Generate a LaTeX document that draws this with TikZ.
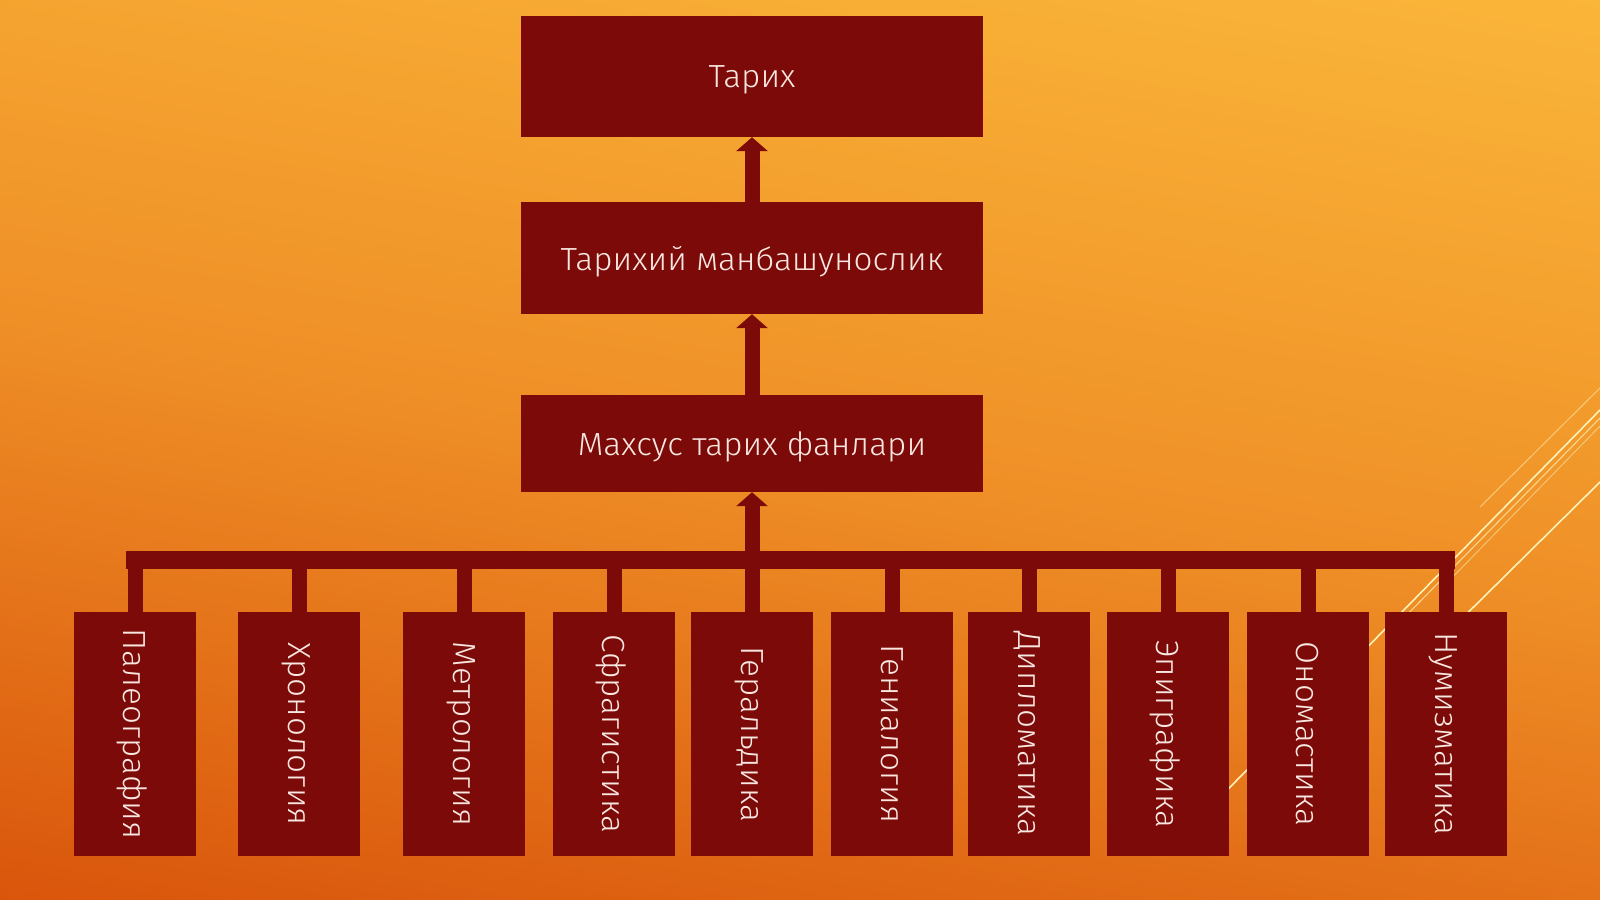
\documentclass[tikz,border=0pt]{standalone}
\usepackage{fontspec}
\setmainfont{Fira Sans Light}[FakeStretch=1.04]
\usetikzlibrary{arrows.meta}
\definecolor{boxred}{HTML}{7B0A08}
\definecolor{txt}{HTML}{F8E6E0}
\definecolor{bgtop}{HTML}{FBB83A}
\definecolor{bgmid}{HTML}{EF9027}
\definecolor{bgbot}{HTML}{D8520A}
\definecolor{wisp}{HTML}{FFF2B8}
\begin{document}
\begin{tikzpicture}[x=1pt,y=-1pt,
  lbl/.style={text=txt, font=\fontsize{32}{38}\selectfont, text depth=0pt},
  topbox/.style={lbl, fill=boxred, draw=none, minimum width=462pt, inner sep=0pt},
  leafbox/.style={lbl, fill=boxred, draw=none, rotate=-90, minimum width=244pt, minimum height=122pt, inner sep=0pt},
  uparrow/.style={draw=boxred, line width=15pt, -{Triangle[width=31pt,length=14pt]}},
  drop/.style={draw=boxred, line width=15pt},
  barline/.style={draw=boxred, line width=18pt, line cap=rect},
  wispline/.style={draw=wisp, line width=1.6pt}]
\useasboundingbox (0,0) rectangle (1600,899);
\shade[top color=bgtop, bottom color=bgbot, middle color=bgmid, shading angle=-10] (-200,-100) rectangle (1800,999);
% decorative lines
\draw[wispline, opacity=0.55, line width=1pt] (1480,507) -- (1600,388);
\draw[wispline] (1190,828) -- (1600,410);
\draw[wispline, opacity=0.7, line width=1.1pt] (1392,630) -- (1600,418);
\draw[wispline, opacity=0.5, line width=1pt] (1440,590) -- (1600,426);
\draw[wispline] (1420,660) -- (1600,482);
% main boxes
\node[topbox, minimum height=121pt] (t1) at (752,76.5) {Тарих};
\node[topbox, minimum height=112pt] (t2) at (752,258) {Тарихий манбашунослик};
\node[topbox, minimum height=97pt] (t3) at (752,443.5) {Махсус тарих фанлари};
% leaves
\node[leafbox] (c1) at (135,734) {Палеография};
\node[leafbox] (c2) at (299,734) {Хронология};
\node[leafbox] (c3) at (464,734) {Метрология};
\node[leafbox] (c4) at (614,734) {Сфрагистика};
\node[leafbox] (c5) at (752,734) {Геральдика};
\node[leafbox] (c6) at (892,734) {Гениалогия};
\node[leafbox] (c7) at (1029,734) {Дипломатика};
\node[leafbox] (c8) at (1168,734) {Эпиграфика};
\node[leafbox] (c9) at (1308,734) {Ономастика};
\node[leafbox] (c10) at (1446,734) {Нумизматика};
\coordinate (bar) at (752,560);
% bar and drops
\draw[barline] (c1.west |- bar) -- (c10.west |- bar);
\foreach \c in {c1,c2,c3,c4,c5,c6,c7,c8,c9,c10}
  \draw[drop] (\c.west) -- (\c.west |- bar);
% arrows
\draw[uparrow] (bar) -- (t3.south);
\draw[uparrow] (t3.north) -- (t2.south);
\draw[uparrow] (t2.north) -- (t1.south);
\end{tikzpicture}
\end{document}
